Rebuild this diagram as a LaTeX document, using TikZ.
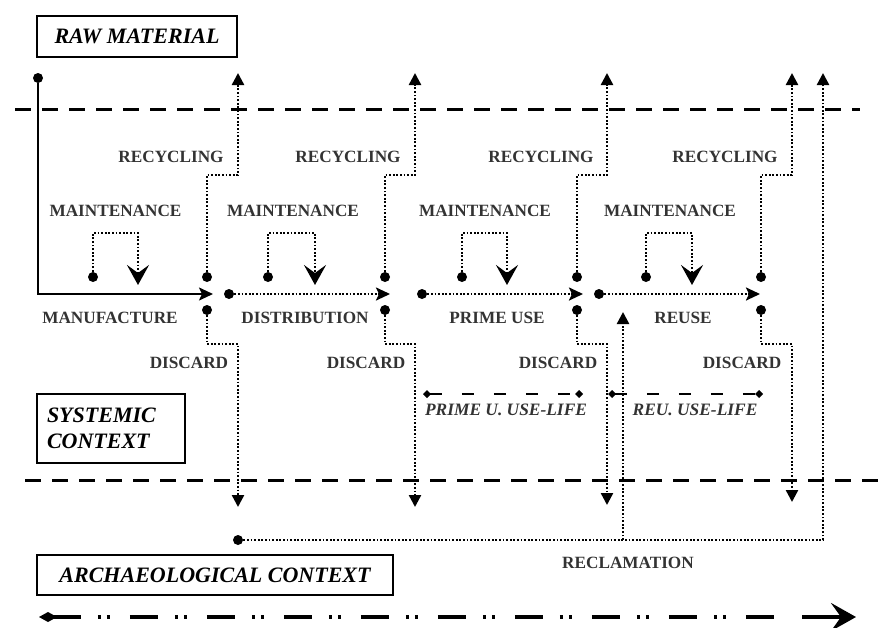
\documentclass[tikz,border=0pt]{standalone}
\usepackage{fontspec}
\setmainfont{Liberation Serif}
\usetikzlibrary{arrows.meta}

\begin{document}
\begin{tikzpicture}[x=5pt,y=-5pt]


\tikzset{
  DotStyle/.style = {circle, fill, inner sep=0pt, minimum size=5pt},
  LabelStyle/.style = {font = \fontsize{8.6}{10}\selectfont\bfseries, text=black!80},
  LifeLabel/.style = {font = \fontsize{8.7}{10}\selectfont\bfseries\itshape, text=black!80},
  BoxStyle/.style = {draw, line width=1pt, inner sep=0pt,
                     font = \fontsize{11}{13}\selectfont\bfseries\itshape},
  DotLine/.style = {line width=1.2pt, dash pattern=on 0.9pt off 0.9pt},
  SepLine/.style = {line width=1.5pt, dash pattern=on 8pt off 5.5pt},
  LifeLine/.style = {line width=0.8pt, dash pattern=on 6pt off 10pt,
                     {Diamond[length=4pt,width=4pt]}-{Diamond[length=4pt,width=4pt]}},
  UpTip/.style = {-{Triangle[length=6pt,width=6pt]}},
  FlowTip/.style = {-{Stealth[length=7pt,width=6.5pt,inset=1.5pt]}},
  CareTip/.style = {-{Stealth[length=10pt,width=11pt,inset=4pt]}} }
  \useasboundingbox (0,0) rectangle (88.2,62.7);

  \node[BoxStyle, minimum width=100pt, minimum height=20.5pt] (raw) at (13.7,3.65) {RAW MATERIAL};
  \node[BoxStyle, text width=64pt, inner xsep=5pt, minimum height=34.5pt, align=left] (sys) at (11.1,42.85) {SYSTEMIC\\CONTEXT};
  \node[BoxStyle, minimum width=178pt, minimum height=20pt] (arch) at (21.5,57.5) {ARCHAEOLOGICAL CONTEXT};

  % context borders
  \coordinate (topL) at (1.5,10.9);
  \coordinate (topR) at (86.0,10.9);
  \coordinate (botL) at (2.5,48.0);
  \coordinate (botR) at (88.2,48.0);
  \draw[SepLine] (topL) -- (topR);
  \draw[SepLine] (botL) -- (botR);

  \coordinate (rs) at (0,17.5);
  \coordinate (ks) at (0,34.4);
  \coordinate (cs) at (0,23.3);

  % main flow
  \node[DotStyle] (src) at (3.8,7.8) {};
  \node[DotStyle] (d2) at (22.9,29.4) {};
  \node[DotStyle] (d3) at (42.2,29.4) {};
  \node[DotStyle] (d4) at (59.9,29.4) {};
  \coordinate (m1) at (21.3,29.4);
  \coordinate (m2) at (39.0,29.4);
  \coordinate (m3) at (58.3,29.4);
  \coordinate (m4) at (76.0,29.4);
  \draw[line width=1pt, FlowTip] (src) |- (m1);
  \draw[DotLine, FlowTip] (d2) -- (m2);
  \draw[DotLine, FlowTip] (d3) -- (m3);
  \draw[DotLine, FlowTip] (d4) -- (m4);

  % maintenance
  \node[DotStyle] (c1) at (9.3,27.7) {};
  \node[DotStyle] (c2) at (26.8,27.7) {};
  \node[DotStyle] (c3) at (46.2,27.7) {};
  \node[DotStyle] (c4) at (64.6,27.7) {};
  \coordinate (ct1) at (13.8,28.5);
  \coordinate (ct2) at (31.5,28.5);
  \coordinate (ct3) at (50.7,28.5);
  \coordinate (ct4) at (69.2,28.5);
  \draw[DotLine, CareTip] (c1) -- (c1 |- cs) -| (ct1);
  \draw[DotLine, CareTip] (c2) -- (c2 |- cs) -| (ct2);
  \draw[DotLine, CareTip] (c3) -- (c3 |- cs) -| (ct3);
  \draw[DotLine, CareTip] (c4) -- (c4 |- cs) -| (ct4);

  % recycling
  \node[DotStyle] (r1) at (20.7,27.7) {};
  \node[DotStyle] (r2) at (38.5,27.7) {};
  \node[DotStyle] (r3) at (57.7,27.7) {};
  \node[DotStyle] (r4) at (76.1,27.7) {};
  \coordinate (rt1) at (23.8,7.3);
  \coordinate (rt2) at (41.5,7.3);
  \coordinate (rt3) at (60.7,7.3);
  \coordinate (rt4) at (79.2,7.3);
  \draw[DotLine, UpTip] (r1) -- (r1 |- rs) -| (rt1);
  \draw[DotLine, UpTip] (r2) -- (r2 |- rs) -| (rt2);
  \draw[DotLine, UpTip] (r3) -- (r3 |- rs) -| (rt3);
  \draw[DotLine, UpTip] (r4) -- (r4 |- rs) -| (rt4);

  % discard
  \node[DotStyle] (k1) at (20.7,31.0) {};
  \node[DotStyle] (k2) at (38.5,31.0) {};
  \node[DotStyle] (k3) at (57.7,31.0) {};
  \node[DotStyle] (k4) at (76.1,31.0) {};
  \coordinate (kt1) at (23.8,50.7);
  \coordinate (kt2) at (41.5,50.7);
  \coordinate (kt3) at (60.7,50.5);
  \coordinate (kt4) at (79.2,50.2);
  \draw[DotLine, UpTip] (k1) -- (k1 |- ks) -| (kt1);
  \draw[DotLine, UpTip] (k2) -- (k2 |- ks) -| (kt2);
  \draw[DotLine, UpTip] (k3) -- (k3 |- ks) -| (kt3);
  \draw[DotLine, UpTip] (k4) -- (k4 |- ks) -| (kt4);

  % reclamation
  \node[DotStyle] (rec) at (23.8,54.0) {};
  \coordinate (rct) at (82.3,7.3);
  \coordinate (rb) at (62.3,54.0);
  \coordinate (rbt) at (62.3,31.2);
  \draw[DotLine, UpTip] (rec) -| (rct);
  \draw[DotLine, UpTip] (rb) -- (rbt);

  % use-life
  \coordinate (p1) at (42.3,39.4);
  \coordinate (p2) at (58.3,39.4);
  \coordinate (u1) at (60.8,39.4);
  \coordinate (u2) at (76.3,39.4);
  \draw[LifeLine] (p1) -- (p2);
  \draw[LifeLine] (u1) -- (u2);

  % time axis
  \coordinate (t0) at (3.9,61.7);
  \coordinate (t1) at (77.5,61.7);
  \coordinate (t2) at (80.2,61.7);
  \coordinate (t3) at (85.6,61.7);
  \draw[line width=2pt, dash pattern=on 14pt off 8.5pt on 1.5pt off 3pt on 1.5pt off 10pt,
        {Diamond[length=9pt,width=5pt]}-] (t0) -- (t1);
  \draw[line width=2pt, -{Stealth[length=12.5pt,width=14pt,inset=5pt]}] (t2) -- (t3);

  \node[LabelStyle] (rl1) at (17.1,15.7) {RECYCLING};
  \node[LabelStyle] (rl2) at (34.8,15.7) {RECYCLING};
  \node[LabelStyle] (rl3) at (54.1,15.7) {RECYCLING};
  \node[LabelStyle] (rl4) at (72.5,15.7) {RECYCLING};
  \node[LabelStyle] (ml1) at (11.55,21.1) {MAINTENANCE};
  \node[LabelStyle] (ml2) at (29.3,21.1) {MAINTENANCE};
  \node[LabelStyle] (ml3) at (48.5,21.1) {MAINTENANCE};
  \node[LabelStyle] (ml4) at (67.0,21.1) {MAINTENANCE};
  \node[LabelStyle] (sl1) at (11.0,31.8) {MANUFACTURE};
  \node[LabelStyle] (sl2) at (30.5,31.8) {DISTRIBUTION};
  \node[LabelStyle] (sl3) at (49.7,31.8) {PRIME USE};
  \node[LabelStyle] (sl4) at (68.3,31.8) {REUSE};
  \node[LabelStyle] (kl1) at (18.9,36.3) {DISCARD};
  \node[LabelStyle] (kl2) at (36.6,36.3) {DISCARD};
  \node[LabelStyle] (kl3) at (55.8,36.3) {DISCARD};
  \node[LabelStyle] (kl4) at (74.2,36.3) {DISCARD};
  \node[LabelStyle] (recl) at (62.8,56.3) {RECLAMATION};
  \node[LifeLabel] (pl) at (50.6,41.0) {PRIME U. USE-LIFE};
  \node[LifeLabel] (ul) at (69.5,41.0) {REU. USE-LIFE};

\end{tikzpicture}
\end{document}
